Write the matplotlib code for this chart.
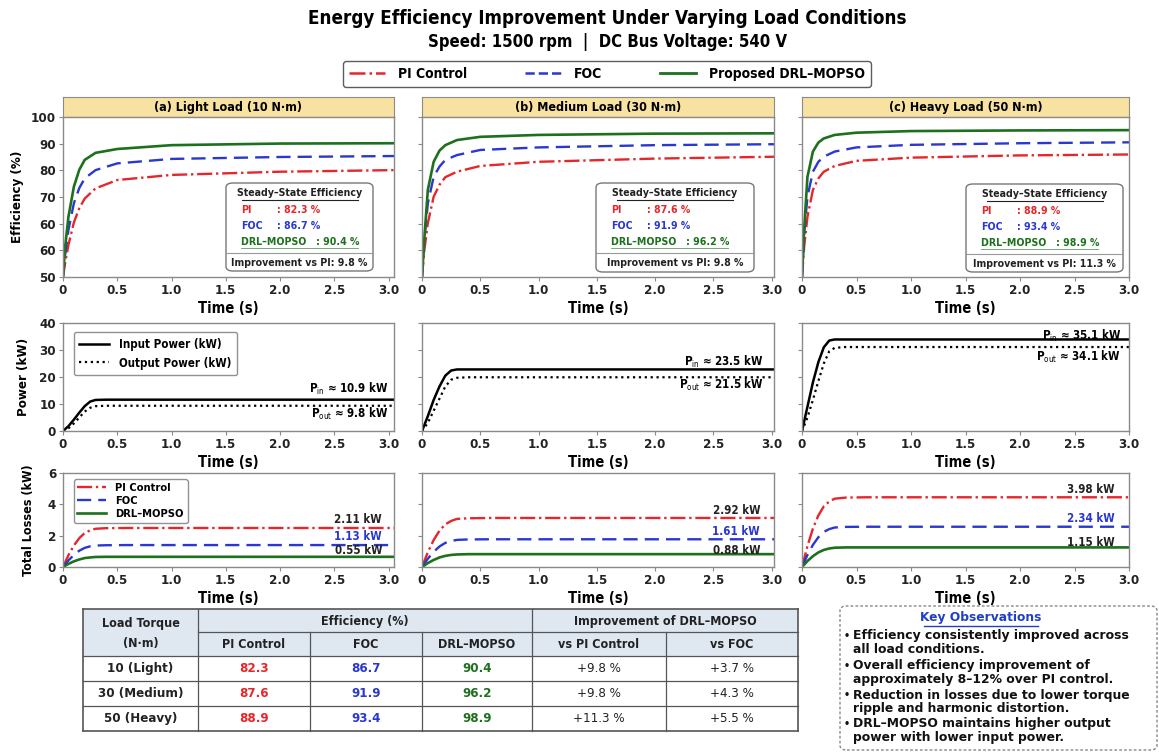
import numpy as np
import matplotlib
matplotlib.use('Agg')
import matplotlib.pyplot as plt
from matplotlib.patches import FancyBboxPatch, Rectangle
from matplotlib.lines import Line2D

plt.rcParams['font.family'] = ['DejaVu Sans']
plt.rcParams['font.stretch'] = 'condensed'

W, H = 1159, 752

# ---------------- data ----------------
methods = ['PI Control', 'FOC', 'DRL-MOPSO']
legend_labels = ['PI Control', 'FOC', 'Proposed DRL\u2013MOPSO']
panel_titles = ['(a) Light Load (10 N\u00b7m)', '(b) Medium Load (30 N\u00b7m)', '(c) Heavy Load (50 N\u00b7m)']
x_ticks = [0, 0.5, 1.0, 1.5, 2.0, 2.5, 3.0]
x_tick_labels = ['0', '0.5', '1.0', '1.5', '2.0', '2.5', '3.0']
eff_tick_labels = ['50', '60', '60', '70', '80', '90', '100']
power_ticks = [0, 10, 20, 30, 40]
loss_ticks = [0, 2, 4, 6]

# efficiency transients (%)
t_eff = [0, 0.02, 0.05, 0.1, 0.15, 0.2, 0.3, 0.5, 1.0, 2.0, 3.05]
eff_pi = [
    [50, 54.5, 60.0, 67.0, 71.5, 74.5, 77.7, 80.3, 81.9, 82.9, 83.4],
    [50, 58.4, 66.8, 75.1, 78.8, 81.2, 82.9, 84.7, 86.0, 87.0, 87.6],
    [50, 59.5, 68.8, 77.2, 80.8, 82.9, 84.7, 86.3, 87.3, 88.0, 88.3],
]
eff_foc = [
    [50, 57.0, 64.7, 73.0, 77.8, 80.8, 83.4, 85.5, 86.9, 87.5, 87.8],
    [50, 61.6, 73.0, 81.3, 84.5, 86.6, 88.1, 89.7, 90.5, 91.2, 91.5],
    [50, 63.7, 75.1, 82.9, 86.0, 87.6, 89.2, 90.5, 91.3, 91.8, 92.1],
]
eff_drl = [
    [50, 59.5, 68.8, 78.2, 83.5, 86.6, 88.8, 90.0, 91.2, 91.7, 91.8],
    [50, 62.0, 77.2, 86.0, 89.5, 91.2, 92.8, 93.8, 94.4, 94.8, 94.9],
    [50, 65.0, 81.3, 89.2, 92.0, 93.3, 94.4, 95.1, 95.6, 95.8, 95.9],
]

# power transients (kW)
t_pow = [0, 0.05, 0.1, 0.15, 0.2, 0.25, 0.3, 0.4, 3.05]
p_in = [
    [0, 1.8, 4.2, 6.8, 9.2, 10.9, 11.5, 11.6, 11.6],
    [0, 5.5, 11.5, 16.5, 20.5, 22.4, 22.8, 22.8, 22.8],
    [0, 9.0, 18.0, 25.5, 31.0, 33.5, 33.9, 33.9, 33.9],
]
p_out = [
    [0, 1.0, 2.8, 5.0, 7.2, 8.6, 9.2, 9.35, 9.35],
    [0, 3.0, 7.5, 12.0, 16.5, 19.0, 19.7, 19.9, 19.9],
    [0, 5.0, 11.5, 18.5, 25.0, 29.5, 30.8, 31.1, 31.1],
]

# loss transients (kW)
t_loss = [0, 0.05, 0.1, 0.15, 0.2, 0.25, 0.3, 0.4, 0.6, 3.05]
loss_pi = [
    [0, 0.75, 1.37, 1.84, 2.17, 2.34, 2.44, 2.48, 2.49, 2.49],
    [0, 0.94, 1.72, 2.32, 2.72, 2.94, 3.07, 3.11, 3.13, 3.13],
    [0, 1.34, 2.45, 3.29, 3.87, 4.18, 4.36, 4.43, 4.45, 4.45],
]
loss_foc = [
    [0, 0.42, 0.77, 1.04, 1.22, 1.32, 1.37, 1.39, 1.40, 1.40],
    [0, 0.53, 0.97, 1.31, 1.54, 1.66, 1.73, 1.76, 1.77, 1.77],
    [0, 0.77, 1.41, 1.90, 2.24, 2.42, 2.52, 2.56, 2.57, 2.57],
]
loss_drl = [
    [0, 0.20, 0.36, 0.48, 0.57, 0.61, 0.64, 0.65, 0.65, 0.65],
    [0, 0.25, 0.45, 0.61, 0.71, 0.77, 0.80, 0.82, 0.82, 0.82],
    [0, 0.38, 0.69, 0.93, 1.09, 1.18, 1.23, 1.25, 1.25, 1.25],
]

# reported steady-state numbers
ss_pi = [82.3, 87.6, 88.9]
ss_foc = [86.7, 91.9, 93.4]
ss_drl = [90.4, 96.2, 98.9]
imp_vs_pi = [9.8, 9.8, 11.3]
imp_vs_foc = [3.7, 4.3, 5.5]
p_in_ss = [10.9, 23.5, 35.1]
p_out_ss = [9.8, 21.5, 34.1]
loss_pi_ss = [2.11, 2.92, 3.98]
loss_foc_ss = [1.13, 1.61, 2.34]
loss_drl_ss = [0.55, 0.88, 1.15]
load_labels = ['10 (Light)', '30 (Medium)', '50 (Heavy)']
observations = [
    ['Efficiency consistently improved across', 'all load conditions.'],
    ['Overall efficiency improvement of', 'approximately 8\u201312% over PI control.'],
    ['Reduction in losses due to lower torque', 'ripple and harmonic distortion.'],
    ['DRL\u2013MOPSO maintains higher output', 'power with lower input power.'],
]

# ---------------- style ----------------
C_PI = '#e5262b'
C_FOC = '#2a37d0'
C_DRL = '#1d701d'
BAR = '#f8e2a2'
SPINE = '#8a8a8a'
HDR = '#dfe7f1'


def fx(x):
    return x / W


def fy(y):
    return 1 - y / H


def rect(x0, x1, y0, y1):
    return [x0 / W, 1 - y1 / H, (x1 - x0) / W, (y1 - y0) / H]


fig = plt.figure(figsize=(W / 100, H / 100), dpi=100)
fig.patch.set_facecolor('white')

fig.text(fx(607), fy(18), 'Energy Efficiency Improvement Under Varying Load Conditions',
         ha='center', va='center', fontsize=13.5, fontweight='bold')
fig.text(fx(608), fy(42), 'Speed: 1500 rpm  |  DC Bus Voltage: 540 V',
         ha='center', va='center', fontsize=12, fontweight='bold')

handles = [Line2D([], [], color=C_PI, ls='-.', lw=1.8),
           Line2D([], [], color=C_FOC, ls='--', lw=1.8),
           Line2D([], [], color=C_DRL, ls='-', lw=2.0)]
leg = fig.legend(handles, legend_labels, loc='center', bbox_to_anchor=(fx(607), fy(74)),
                 ncol=3, frameon=True, fancybox=True, edgecolor='#333333',
                 columnspacing=4.2, handlelength=2.6, handletextpad=0.9,
                 borderpad=0.45,
                 prop=dict(weight='bold', size=10, stretch='condensed'))
leg.get_frame().set_linewidth(1.0)

cols = [(63, 394, 3.05), (422, 774, 3.02), (802, 1129, 3.0)]
rows = [(117, 277), (323, 431), (473, 567)]
boxes = [(226, 373, 183, 271), (596, 754, 183, 272), (966, 1123, 184, 272)]
LBL = 9.5


def style_axis(ax, xmax, show_y):
    ax.set_xlim(0, xmax)
    ax.set_xticks(x_ticks)
    ax.set_xticklabels(x_tick_labels)
    for s in ax.spines.values():
        s.set_color(SPINE)
        s.set_linewidth(1.0)
    ax.tick_params(axis='both', labelsize=9.5, length=3, color=SPINE, pad=2)
    for lab in ax.get_xticklabels() + ax.get_yticklabels():
        lab.set_fontweight('bold')
        lab.set_color('#222222')
    if not show_y:
        ax.tick_params(axis='y', labelleft=False)


for i, (x0, x1, xmax) in enumerate(cols):
    # title bar
    bar = fig.add_axes(rect(x0, x1, 97, 117))
    bar.set_facecolor(BAR)
    bar.set_xticks([])
    bar.set_yticks([])
    for s in bar.spines.values():
        s.set_color(SPINE)
    bar.text(0.5, 0.5, panel_titles[i], ha='center', va='center', fontsize=9,
             fontweight='bold', transform=bar.transAxes)

    # efficiency
    ax = fig.add_axes(rect(x0, x1, *rows[0]))
    ax.plot(t_eff, eff_pi[i], color=C_PI, ls='-.', lw=1.7)
    ax.plot(t_eff, eff_foc[i], color=C_FOC, ls='--', lw=1.7, dashes=(6, 3))
    ax.plot(t_eff, eff_drl[i], color=C_DRL, ls='-', lw=1.9)
    ax.set_ylim(50, 100)
    ax.set_yticks(np.linspace(50, 100, len(eff_tick_labels)))
    ax.set_yticklabels(eff_tick_labels)
    style_axis(ax, xmax, i == 0)
    ax.set_xlabel('Time (s)', fontsize=10.5, fontweight='bold', labelpad=3)
    if i == 0:
        ax.set_ylabel('Efficiency (%)', fontsize=LBL, fontweight='bold', labelpad=5)

    # steady-state box
    bx0, bx1, by0, by1 = boxes[i]
    fig.add_artist(FancyBboxPatch((fx(bx0), fy(by1)), fx(bx1) - fx(bx0), fy(by0) - fy(by1),
                                  boxstyle='round,pad=0,rounding_size=0.006',
                                  transform=fig.transFigure, facecolor='white',
                                  edgecolor='#777777', lw=1.0, zorder=5))
    cxm = (bx0 + bx1) / 2
    fs = 7.6
    fig.text(fx(cxm), fy(by0 + 10), 'Steady\u2013State Efficiency', ha='center', va='center',
             fontsize=fs, fontweight='bold', color='#222222', zorder=6)
    fig.add_artist(Line2D([fx(cxm - 58), fx(cxm + 58)], [fy(by0 + 16.5)] * 2,
                          color='#222222', lw=0.8, transform=fig.transFigure, zorder=6))
    lx = bx0 + 15
    vx = bx0 + 51
    fig.text(fx(lx), fy(by0 + 27), 'PI', ha='left', va='center', fontsize=fs,
             fontweight='bold', color=C_PI, zorder=6)
    fig.text(fx(vx), fy(by0 + 27), ': %.1f %%' % ss_pi[i], ha='left', va='center',
             fontsize=fs, fontweight='bold', color=C_PI, zorder=6)
    fig.text(fx(lx), fy(by0 + 43), 'FOC', ha='left', va='center', fontsize=fs,
             fontweight='bold', color=C_FOC, zorder=6)
    fig.text(fx(vx), fy(by0 + 43), ': %.1f %%' % ss_foc[i], ha='left', va='center',
             fontsize=fs, fontweight='bold', color=C_FOC, zorder=6)
    fig.text(fx(lx), fy(by0 + 59), 'DRL\u2013MOPSO   : %.1f %%' % ss_drl[i], ha='left',
             va='center', fontsize=fs, fontweight='bold', color=C_DRL, zorder=6)
    fig.add_artist(Line2D([fx(lx), fx(lx + 117)], [fy(by0 + 64.5)] * 2, color=C_DRL,
                          lw=0.7, alpha=0.6, transform=fig.transFigure, zorder=6))
    fig.add_artist(Line2D([fx(bx0), fx(bx1)], [fy(by0 + 70)] * 2, color='#999999',
                          lw=0.8, transform=fig.transFigure, zorder=6))
    fig.text(fx(cxm), fy(by0 + 80), 'Improvement vs PI: %.1f %%' % imp_vs_pi[i],
             ha='center', va='center', fontsize=fs, fontweight='bold',
             color='#222222', zorder=6)

    # power
    axp = fig.add_axes(rect(x0, x1, *rows[1]))
    axp.plot(t_pow, p_in[i], color='black', ls='-', lw=1.8, label='Input Power (kW)')
    axp.plot(t_pow, p_out[i], color='black', ls=':', lw=1.6, label='Output Power (kW)')
    axp.set_ylim(0, 40)
    axp.set_yticks(power_ticks)
    style_axis(axp, xmax, i == 0)
    axp.set_xlabel('Time (s)', fontsize=10.5, fontweight='bold', labelpad=3)
    if i == 0:
        axp.set_ylabel('Power (kW)', fontsize=LBL, fontweight='bold', labelpad=7)
        lg = axp.legend(loc='upper left', fontsize=8.3, handlelength=2.6,
                        frameon=True, fancybox=True, edgecolor='#777777',
                        borderpad=0.5, bbox_to_anchor=(0.015, 0.97))
        for txt in lg.get_texts():
            txt.set_fontweight('bold')
    pin_y = [15.6, 25.7, 35.3][i]
    pout_y = [6.3, 17.1, 27.6][i]
    tx = [3.0, 2.93, 2.93][i]
    axp.text(tx, pin_y, r'P$_{\mathrm{in}}$' + ' \u2248 %.1f kW' % p_in_ss[i], ha='right',
             va='center', fontsize=8.3, fontweight='bold')
    axp.text(tx, pout_y, r'P$_{\mathrm{out}}$' + ' \u2248 %.1f kW' % p_out_ss[i], ha='right',
             va='center', fontsize=8.3, fontweight='bold')

    # losses
    axl = fig.add_axes(rect(x0, x1, *rows[2]))
    axl.plot(t_loss, loss_pi[i], color=C_PI, ls='-.', lw=1.7, label='PI Control')
    axl.plot(t_loss, loss_foc[i], color=C_FOC, ls='--', lw=1.7, dashes=(6, 3), label='FOC')
    axl.plot(t_loss, loss_drl[i], color=C_DRL, ls='-', lw=1.9, label='DRL\u2013MOPSO')
    axl.set_ylim(0, 6)
    axl.set_yticks(loss_ticks)
    style_axis(axl, xmax, i == 0)
    axl.set_xlabel('Time (s)', fontsize=10.5, fontweight='bold', labelpad=3)
    if i == 0:
        axl.set_ylabel('Total Losses (kW)', fontsize=9, fontweight='bold', labelpad=9)
        lg = axl.legend(loc='upper left', fontsize=8, handlelength=2.6,
                        frameon=True, fancybox=True, edgecolor='#777777',
                        borderpad=0.35, labelspacing=0.25,
                        bbox_to_anchor=(0.015, 0.99))
        for txt in lg.get_texts():
            txt.set_fontweight('bold')
    ly = [[3.02, 1.94, 1.04], [3.6, 2.27, 1.08], [4.92, 3.09, 1.58]][i]
    ltx = [2.94, 2.9, 2.87][i]
    axl.text(ltx, ly[0], '%.2f kW' % loss_pi_ss[i], ha='right', va='center',
             fontsize=8.3, fontweight='bold', color='#222222')
    axl.text(ltx, ly[1], '%.2f kW' % loss_foc_ss[i], ha='right', va='center',
             fontsize=8.3, fontweight='bold', color=C_FOC)
    axl.text(ltx, ly[2], '%.2f kW' % loss_drl_ss[i], ha='right', va='center',
             fontsize=8.3, fontweight='bold', color='#222222')

# ---------------- table ----------------
tcx = [83, 198, 310, 422, 532, 666, 798]
try_ = [609, 632, 656, 681, 706, 731]
LC = '#555555'
fig.add_artist(Rectangle((fx(tcx[0]), fy(try_[2])), fx(tcx[-1]) - fx(tcx[0]),
                         fy(try_[0]) - fy(try_[2]), transform=fig.transFigure,
                         facecolor=HDR, edgecolor='none'))


def hline(x0, x1, y, lw=0.9):
    fig.add_artist(Line2D([fx(x0), fx(x1)], [fy(y), fy(y)], color=LC, lw=lw,
                          transform=fig.transFigure))


def vline(x, y0, y1, lw=0.9):
    fig.add_artist(Line2D([fx(x), fx(x)], [fy(y0), fy(y1)], color=LC, lw=lw,
                          transform=fig.transFigure))


hline(tcx[0], tcx[-1], try_[0], 1.2)
hline(tcx[1], tcx[-1], try_[1])
for yy in try_[2:-1]:
    hline(tcx[0], tcx[-1], yy)
hline(tcx[0], tcx[-1], try_[-1], 1.2)
vline(tcx[0], try_[0], try_[-1], 1.2)
vline(tcx[-1], try_[0], try_[-1], 1.2)
for k in [1, 4]:
    vline(tcx[k], try_[0], try_[-1])
for k in [2, 3, 5]:
    vline(tcx[k], try_[1], try_[-1])

TF = dict(ha='center', va='center', fontsize=9, color='#222222', fontweight='bold')
fig.text(fx((tcx[0] + tcx[1]) / 2), fy(624), 'Load Torque', **TF)
fig.text(fx((tcx[0] + tcx[1]) / 2), fy(644), '(N\u00b7m)', **TF)
fig.text(fx((tcx[1] + tcx[4]) / 2), fy(621), 'Efficiency (%)', **TF)
fig.text(fx((tcx[4] + tcx[6]) / 2), fy(621), 'Improvement of DRL\u2013MOPSO', **TF)
sub = ['PI Control', 'FOC', 'DRL\u2013MOPSO', 'vs PI Control', 'vs FOC']
for k, s in enumerate(sub):
    fig.text(fx((tcx[k + 1] + tcx[k + 2]) / 2), fy(644), s, **TF)
for r in range(3):
    yc = (try_[r + 2] + try_[r + 3]) / 2
    vals = [(load_labels[r], '#222222', 'bold'), ('%.1f' % ss_pi[r], C_PI, 'bold'),
            ('%.1f' % ss_foc[r], C_FOC, 'bold'), ('%.1f' % ss_drl[r], C_DRL, 'bold'),
            ('+%.1f %%' % imp_vs_pi[r], '#222222', 'normal'),
            ('+%.1f %%' % imp_vs_foc[r], '#222222', 'normal')]
    for k, (s, c, wgt) in enumerate(vals):
        fig.text(fx((tcx[k] + tcx[k + 1]) / 2), fy(yc), s, ha='center', va='center',
                 fontsize=9.5, color=c, fontweight=wgt)

# ---------------- key observations ----------------
fig.add_artist(FancyBboxPatch((fx(840), fy(750)), fx(1157) - fx(840), fy(606) - fy(750),
                              boxstyle='round,pad=0,rounding_size=0.006',
                              transform=fig.transFigure, facecolor='white',
                              edgecolor='#888888', lw=1.0, ls=(0, (2, 1.5))))
fig.text(fx(981), fy(618), 'Key Observations', ha='center', va='center', fontsize=8.8,
         fontweight='bold', color='#1f3fc6', fontstretch='normal')
fig.add_artist(Line2D([fx(924), fx(1038)], [fy(625.5), fy(625.5)], color='#1f3fc6', lw=1.0,
                      transform=fig.transFigure))
oy = [636, 666, 695, 724]
OF = dict(ha='left', va='center', fontsize=8.9, fontweight='bold', color='#111111',
          fontstretch='normal')
for k, lines in enumerate(observations):
    fig.text(fx(844), fy(oy[k]), '\u2022', ha='left', va='center', fontsize=7,
             fontweight='bold', color='#111111', fontstretch='normal')
    fig.text(fx(853), fy(oy[k]), lines[0], **OF)
    fig.text(fx(853), fy(oy[k] + 13.5), lines[1], **OF)

fig.savefig('out.png', dpi=100, facecolor='white')
